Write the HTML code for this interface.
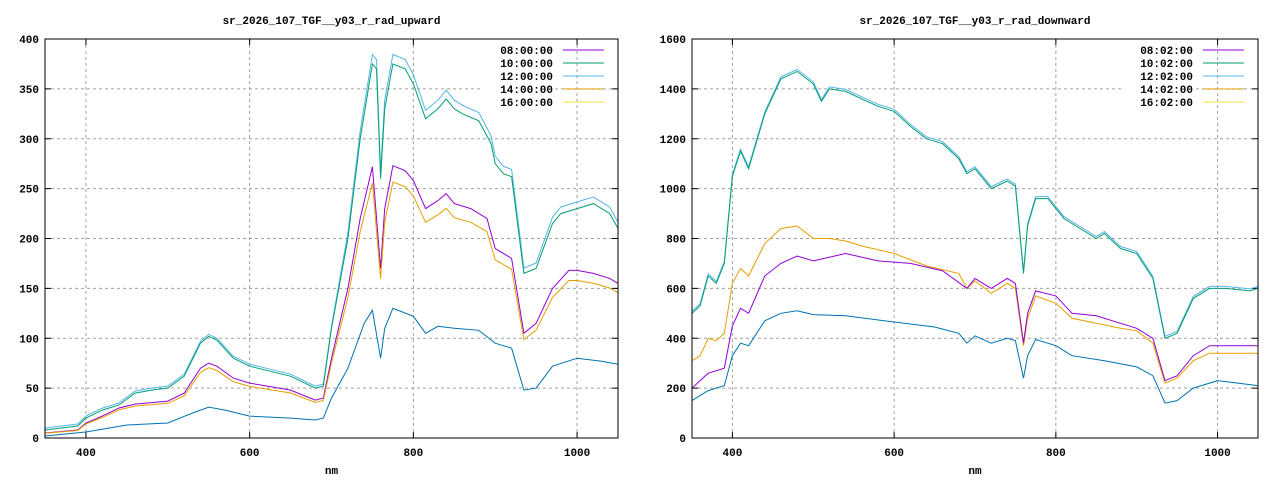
<!DOCTYPE html>
<html><head><meta charset="utf-8"><style>
body{margin:0;background:#fff}
svg text{font-family:"Liberation Mono",monospace;font-size:11px;font-weight:bold;fill:#000}
</style></head><body>
<svg id="s" width="1280" height="480" xmlns="http://www.w3.org/2000/svg"></svg>
<script>
const S=document.getElementById('s');let h='';
function plot(x0,x1,y0,y1,ymax,ystep,title,names,curves){
  const X=n=>x0+(n-350)/(1050-350)*(x1-x0), Y=v=>y1-v/ymax*(y1-y0);
  h+=`<text x="${(x0+x1)/2}" y="24" text-anchor="middle">${title}</text>`;
  for(let v=0;v<=ymax;v+=ystep){const y=Y(v);
    if(v>0&&v<ymax)h+=`<line x1="${x0}" x2="${x1}" y1="${y}" y2="${y}" stroke="#a0a0a0" stroke-dasharray="3,3"/>`;
    h+=`<line x1="${x0}" x2="${x0+6}" y1="${y}" y2="${y}" stroke="#000"/><line x1="${x1}" x2="${x1-6}" y1="${y}" y2="${y}" stroke="#000"/>`;
    h+=`<text x="${x0-6}" y="${y+4}" text-anchor="end">${v}</text>`;}
  for(let n=400;n<=1000;n+=200){const x=X(n);
    h+=`<line x1="${x}" x2="${x}" y1="${y0}" y2="${y1}" stroke="#a0a0a0" stroke-dasharray="3,3"/>`;
    h+=`<line x1="${x}" x2="${x}" y1="${y1}" y2="${y1-6}" stroke="#000"/><line x1="${x}" x2="${x}" y1="${y0}" y2="${y0+6}" stroke="#000"/>`;
    h+=`<text x="${x}" y="${y1+18}" text-anchor="middle">${n}</text>`;}
  h+=`<text x="${(x0+x1)/2}" y="474" text-anchor="middle">nm</text>`;
  const lc=['#9400d3','#009e73','#56b4e9','#e69f00','#f0e442'];
  names.forEach((n,i)=>{const y=y0+15+i*13;
    h+=`<rect x="${x1-135}" y="${y-10}" width="72" height="13" fill="#fff"/><text x="${x1-65}" y="${y}" text-anchor="end">${n}</text><line x1="${x1-55}" x2="${x1-14}" y1="${y-4}" y2="${y-4}" stroke="${lc[i]}"/>`;});
  curves.forEach(([c,pts])=>{let d='';for(let i=0;i<pts.length;i+=2)d+=(i?'L':'M')+X(pts[i]).toFixed(1)+','+Y(pts[i+1]).toFixed(1);
    h+=`<path d="${d}" fill="none" stroke="${c}" stroke-width="1"/>`;});
  h+=`<rect x="${x0}" y="${y0}" width="${x1-x0}" height="${y1-y0}" fill="none" stroke="#000"/>`;
}
const topL=[350,8,390,12,400,20,420,28,440,33,460,45,480,48,500,50,520,62,540,95,550,102,560,98,580,80,600,72,620,68,650,62,680,50,690,52,700,110,720,200,735,300,750,375,755,370,760,260,765,330,775,375,790,370,800,355,815,320,830,330,840,340,850,330,860,325,880,318,895,295,900,275,910,265,920,262,935,165,950,170,970,215,980,225,1000,230,1020,235,1040,225,1050,210];
const topL2=topL.map((v,i)=>i%2?(v>150?v*1.02+2:v+2):v);
const purL=[350,5,390,8,400,15,420,22,440,30,460,34,500,37,520,45,540,70,550,75,560,72,580,60,600,55,650,48,680,38,690,40,700,80,720,150,735,220,750,272,760,170,765,230,775,273,790,268,800,258,815,230,830,238,840,245,850,235,870,230,890,220,900,190,920,180,935,105,950,115,970,150,990,168,1000,168,1020,165,1040,160,1050,155];
const oraL=purL.map((v,i)=>i%2?v*0.94:v);
const bluL=[350,2,400,6,450,13,500,15,530,25,550,31,570,28,600,22,650,20,680,18,690,20,700,40,720,70,740,115,750,128,760,80,765,110,775,130,800,122,815,105,830,112,850,110,880,108,900,95,920,90,935,48,950,50,970,72,1000,80,1030,77,1050,74];
plot(45,618,39,438,400,50,'sr_2026_107_TGF__y03_r_rad_upward',['08:00:00','10:00:00','12:00:00','14:00:00','16:00:00'],
 [['#56b4e9',topL2],['#009e73',topL],['#9400d3',purL],['#e69f00',oraL],['#0072b2',bluL]]);
const topR=[350,500,360,530,370,650,380,620,390,700,400,1050,410,1150,420,1080,440,1300,460,1440,480,1470,500,1420,510,1350,520,1400,540,1390,560,1360,580,1330,600,1310,620,1250,640,1200,660,1180,680,1120,690,1060,700,1080,720,1000,740,1030,750,1010,760,660,765,850,775,960,790,960,810,880,830,840,850,800,860,820,880,760,900,740,920,640,935,400,950,420,970,560,990,600,1010,600,1040,590,1050,600];
const topR2=topR.map((v,i)=>i%2?v+8:v);
const oraR=[350,310,360,330,370,400,380,390,390,420,400,620,410,680,420,650,440,780,460,840,480,850,500,800,520,800,540,790,560,770,600,740,640,690,680,660,690,600,700,630,720,580,740,620,750,600,760,370,765,480,775,570,800,540,820,480,850,460,880,440,900,430,920,380,935,220,950,240,970,310,990,340,1050,340];
const purR=[350,200,370,260,390,280,400,450,410,520,420,500,440,650,460,700,480,730,500,710,540,740,580,710,620,700,660,670,690,600,700,640,720,600,740,640,750,620,760,380,765,500,775,590,800,570,820,500,850,490,880,460,900,440,920,400,935,230,950,250,970,330,990,370,1050,370];
const bluR=[350,150,370,190,390,210,400,330,410,380,420,370,440,470,460,500,480,510,500,495,540,490,600,465,650,445,680,420,690,380,700,410,720,380,740,400,750,390,760,240,765,330,775,395,800,370,820,330,860,310,900,285,920,250,935,140,950,150,970,200,1000,230,1050,210];
plot(692,1258,39,438,1600,200,'sr_2026_107_TGF__y03_r_rad_downward',['08:02:00','10:02:00','12:02:00','14:02:00','16:02:00'],
 [['#56b4e9',topR2],['#009e73',topR],['#e69f00',oraR],['#9400d3',purR],['#0072b2',bluR]]);
S.innerHTML=h;
</script>
</body></html>
